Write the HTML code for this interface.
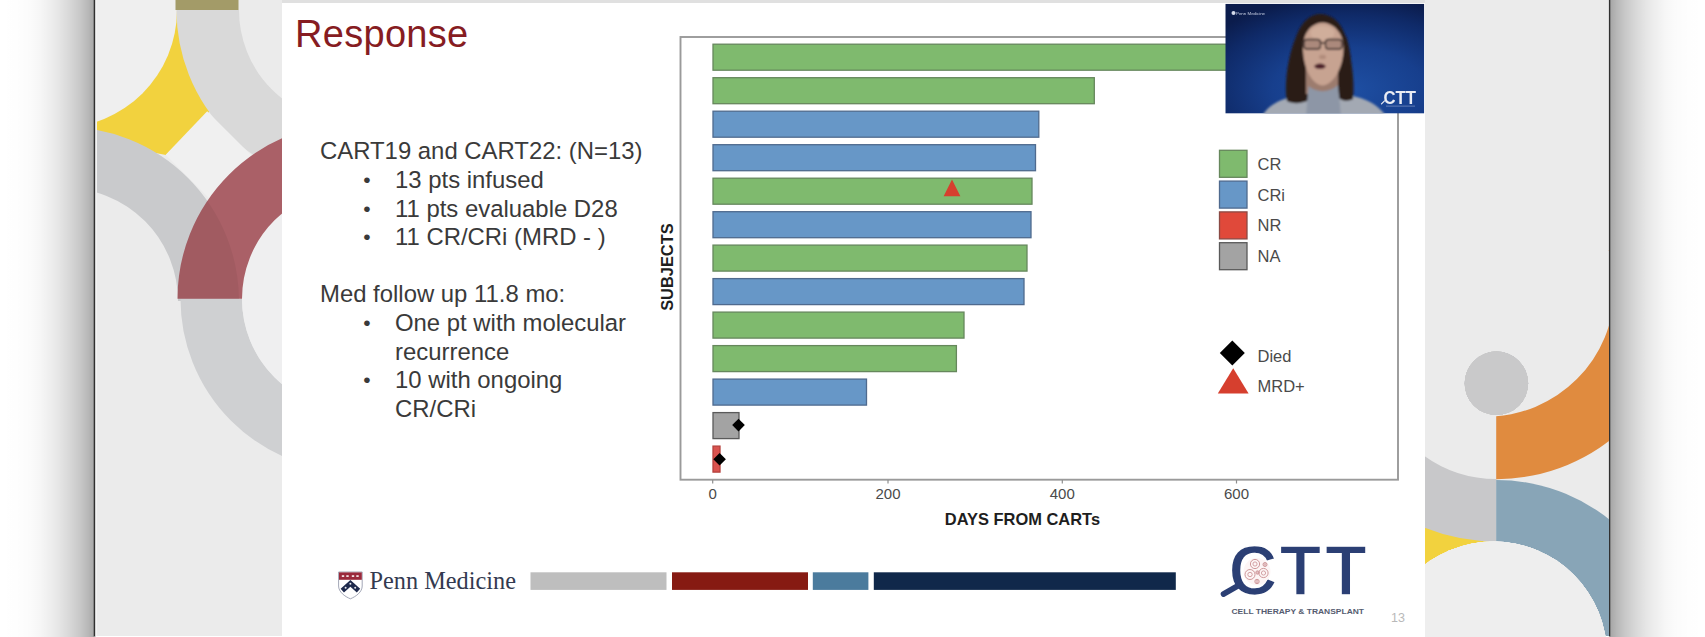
<!DOCTYPE html>
<html>
<head>
<meta charset="utf-8">
<title>Response</title>
<style>
html,body{margin:0;padding:0;background:#fff;}
body{width:1705px;height:637px;overflow:hidden;position:relative;font-family:"Liberation Sans",sans-serif;}
#stage{position:absolute;left:0;top:0;width:1705px;height:637px;overflow:hidden;background:#fff;}
.shadowL{position:absolute;left:0;top:0;width:94px;height:637px;background:linear-gradient(to right,rgba(0,0,0,0) 0px,rgba(0,0,0,0.003) 15px,rgba(0,0,0,0.015) 30px,rgba(0,0,0,0.035) 40px,rgba(0,0,0,0.065) 50px,rgba(0,0,0,0.105) 60px,rgba(0,0,0,0.155) 70px,rgba(0,0,0,0.215) 80px,rgba(0,0,0,0.28) 88px,rgba(0,0,0,0.34) 94px);}
.shadowR{position:absolute;left:1610px;top:0;width:95px;height:637px;background:linear-gradient(to left,rgba(0,0,0,0) 0px,rgba(0,0,0,0.003) 15px,rgba(0,0,0,0.015) 30px,rgba(0,0,0,0.035) 40px,rgba(0,0,0,0.065) 50px,rgba(0,0,0,0.105) 60px,rgba(0,0,0,0.155) 70px,rgba(0,0,0,0.215) 80px,rgba(0,0,0,0.28) 88px,rgba(0,0,0,0.34) 94px);}
#win{position:absolute;left:95px;top:0;width:1514px;height:636px;background:#ebebeb;overflow:hidden;}
#deco{position:absolute;left:0;top:0;width:1705px;height:637px;}
#slide{position:absolute;left:282px;top:3px;width:1143px;height:634px;background:#fff;}
.title{position:absolute;left:295px;top:12px;font-size:38px;line-height:44px;color:#861c22;white-space:nowrap;letter-spacing:0.3px;}
.body{position:absolute;left:320px;top:137.4px;font-size:23.9px;line-height:28.6px;color:#3a3a3a;white-space:nowrap;}
.body .b{position:relative;padding-left:75px;}
.body .b .bl{position:absolute;left:43.3px;top:0.3px;font-size:21px;}
.body .c{padding-left:75px;}
</style>
</head>
<body>
<div id="stage">
  <div class="shadowL"></div>
  <div class="shadowR"></div>
  <div id="win"></div>
  <svg id="deco" width="1705" height="637" viewBox="0 0 1705 637">
    <defs>
      <clipPath id="clipL"><rect x="96" y="0" width="187" height="636"/></clipPath>
      <clipPath id="clipRed"><path d="M 177.5 298.8 A 175.5 175.5 0 0 1 353 123.3 L 353 187.8 A 111 111 0 0 0 242 298.8 Z"/></clipPath>
      <clipPath id="clipRR"><rect x="1496.2" y="250" width="120" height="400"/></clipPath>
      <clipPath id="clipR"><rect x="1424" y="0" width="185" height="636"/></clipPath>
    </defs>
    <g clip-path="url(#clipL)" id="decoL">
      <polygon points="96,10 180,10 211,110 166,155 140,150 96,140" fill="#f2d23e"/>
      <circle cx="59" cy="10" r="118" fill="#efefef"/>
      <path d="M 207.75 10 A 143.75 143.75 0 0 0 351.5 153.75" stroke="#d9d9d9" stroke-width="62.5" fill="none"/>
      <path d="M 65 157.5 A 143.5 143.5 0 0 1 208.5 301" stroke="#c9cacc" stroke-width="61" fill="none"/>
      <polygon points="207.2,111.3 165.7,154.7 255.7,244.7 297.2,201.3" fill="#f0f0f0"/>
      <path d="M 211.25 298.8 A 141.75 141.75 0 0 0 353 440.55" stroke="#cfd0d2" stroke-width="61.5" fill="none"/>
      <circle cx="353" cy="298.8" r="111" fill="#efeff0"/>
      <path d="M 209.75 298.8 A 143.25 143.25 0 0 1 353 155.55" stroke="#aa6067" stroke-width="64.5" fill="none"/>
      <circle cx="65" cy="301" r="143.5" stroke="#000" stroke-opacity="0.05" stroke-width="61" fill="none" clip-path="url(#clipRed)"/>
      <rect x="175.5" y="0" width="63" height="10" fill="#a39b68"/>
    </g>
    <g id="edges"><rect x="93.7" y="0" width="1.7" height="636.5" fill="#303030"/><rect x="95.4" y="0" width="1.6" height="636" fill="#f3f3f3"/><rect x="1608.9" y="0" width="1.4" height="636.5" fill="#303030"/><rect x="282" y="0" width="1143" height="3" fill="#e0e0e0"/></g>
    <g clip-path="url(#clipR)" id="decoR">
      <polygon points="1424,505 1497,541.5 1424,600" fill="#f2d23e"/>
      <path d="M 1424 455.7 A 124 124 0 0 0 1496.4 479 L 1496.4 541.5 A 195.5 195.5 0 0 1 1424 527.6 Z" fill="#c8c8ca"/>
      <g clip-path="url(#clipRR)">
        <circle cx="1496.4" cy="661.3" r="181.3" fill="#88a5b7"/>
        <path fill-rule="evenodd" fill="#e08b3f" d="M 1310.6 293.2 a 185.8 185.8 0 1 0 371.6 0 a 185.8 185.8 0 1 0 -371.6 0 Z M 1357.7 288.3 a 128.4 128.4 0 1 0 256.8 0 a 128.4 128.4 0 1 0 -256.8 0 Z"/>
      </g>
      <circle cx="1493.5" cy="654.9" r="113.4" fill="#eeeeee"/>
      <circle cx="1496.4" cy="383.3" r="31.7" fill="#c8c8ca"/>
    </g>
      <circle cx="1493.5" cy="654.9" r="113.4" fill="#eeeeee"/>
      <circle cx="1496.4" cy="383.3" r="31.7" fill="#c8c8ca"/>
    </g>
      <circle cx="1493.5" cy="654.9" r="113.4" fill="#eeeeee"/>
      <circle cx="1496.4" cy="383.3" r="31.7" fill="#c8c8ca"/>
    </g>
      <circle cx="1493.5" cy="654.9" r="113.4" fill="#eeeeee"/>
      <circle cx="1496.4" cy="383.3" r="31.7" fill="#c9c9ca"/>
    </g>
      <circle cx="1493.5" cy="654.9" r="113.4" fill="#eeeeee"/>
      <circle cx="1496.4" cy="383.3" r="31.7" fill="#c9c9ca"/>
    </g>
      <circle cx="1493.5" cy="654.9" r="113.4" fill="#eeeeee"/>
      <circle cx="1496.4" cy="383.3" r="31.7" fill="#c9c9ca"/>
    </g>
      <circle cx="1493.5" cy="654.9" r="113.4" fill="#eeeeee"/>
      <circle cx="1496.4" cy="383.3" r="31.7" fill="#c9c9ca"/>
    </g>
  </svg>
  <div id="slide"></div>
  <svg id="chart" width="1705" height="637" viewBox="0 0 1705 637" style="position:absolute;left:0;top:0" font-family="'Liberation Sans',sans-serif">
  <rect x="680.5" y="37" width="717.5" height="442.7" fill="#fff" stroke="#9a9a9a" stroke-width="1.9"/>
  <rect x="713.0" y="44.2" width="547.0" height="26" fill="#7fba6e" stroke="#66875c" stroke-width="1.3"/>
  <rect x="713.0" y="77.7" width="381.3" height="26" fill="#7fba6e" stroke="#66875c" stroke-width="1.3"/>
  <rect x="713.0" y="111.2" width="325.8" height="26" fill="#6797c7" stroke="#4f6a8e" stroke-width="1.3"/>
  <rect x="713.0" y="144.7" width="322.5" height="26" fill="#6797c7" stroke="#4f6a8e" stroke-width="1.3"/>
  <rect x="713.0" y="178.2" width="319.0" height="26" fill="#7fba6e" stroke="#66875c" stroke-width="1.3"/>
  <rect x="713.0" y="211.7" width="318.0" height="26" fill="#6797c7" stroke="#4f6a8e" stroke-width="1.3"/>
  <rect x="713.0" y="245.1" width="314.0" height="26" fill="#7fba6e" stroke="#66875c" stroke-width="1.3"/>
  <rect x="713.0" y="278.6" width="311.0" height="26" fill="#6797c7" stroke="#4f6a8e" stroke-width="1.3"/>
  <rect x="713.0" y="312.1" width="251.0" height="26" fill="#7fba6e" stroke="#66875c" stroke-width="1.3"/>
  <rect x="713.0" y="345.6" width="243.4" height="26" fill="#7fba6e" stroke="#66875c" stroke-width="1.3"/>
  <rect x="713.0" y="379.1" width="153.5" height="26" fill="#6797c7" stroke="#4f6a8e" stroke-width="1.3"/>
  <rect x="713.0" y="412.6" width="26.0" height="26" fill="#a3a3a3" stroke="#5a5a5a" stroke-width="1.3"/>
  <rect x="713.0" y="446.1" width="7.0" height="26" fill="#d9534f" stroke="#b5413d" stroke-width="1.3"/>
  <polygon points="952,179.6 943.6,196.2 960.4,196.2" fill="#d63f2e"/>
  <polygon points="738.5,418.8 744.8,425.1 738.5,431.40000000000003 732.2,425.1" fill="#000"/>
  <polygon points="719.6,452.9 725.9,459.2 719.6,465.5 713.3000000000001,459.2" fill="#000"/>
  <line x1="712.7" y1="480" x2="712.7" y2="483.5" stroke="#8e8e8e" stroke-width="1.2"/>
  <text x="712.7" y="499.2" font-size="15" fill="#4a4a4a" text-anchor="middle">0</text>
  <line x1="888" y1="480" x2="888" y2="483.5" stroke="#8e8e8e" stroke-width="1.2"/>
  <text x="888" y="499.2" font-size="15" fill="#4a4a4a" text-anchor="middle">200</text>
  <line x1="1062.3" y1="480" x2="1062.3" y2="483.5" stroke="#8e8e8e" stroke-width="1.2"/>
  <text x="1062.3" y="499.2" font-size="15" fill="#4a4a4a" text-anchor="middle">400</text>
  <line x1="1236.5" y1="480" x2="1236.5" y2="483.5" stroke="#8e8e8e" stroke-width="1.2"/>
  <text x="1236.5" y="499.2" font-size="15" fill="#4a4a4a" text-anchor="middle">600</text>
  <text x="944.8" y="524.9" font-size="16.4" font-weight="bold" fill="#1e1e1e" textLength="155.3" lengthAdjust="spacingAndGlyphs">DAYS FROM CARTs</text>
  <text transform="translate(672.6,267.1) rotate(-90)" font-size="16.4" font-weight="bold" fill="#1e1e1e" text-anchor="middle">SUBJECTS</text>
  <rect x="1219.5" y="150.3" width="27.5" height="27" fill="#7fba6e" stroke="#66875c" stroke-width="1.3"/>
  <text x="1257.5" y="169.8" font-size="16.5" fill="#4a4a4a">CR</text>
  <rect x="1219.5" y="181.1" width="27.5" height="27" fill="#6797c7" stroke="#4f6a8e" stroke-width="1.3"/>
  <text x="1257.5" y="200.6" font-size="16.5" fill="#4a4a4a">CRi</text>
  <rect x="1219.5" y="211.9" width="27.5" height="27" fill="#e0493a" stroke="#8a4a44" stroke-width="1.3"/>
  <text x="1257.5" y="231.4" font-size="16.5" fill="#4a4a4a">NR</text>
  <rect x="1219.5" y="242.7" width="27.5" height="27" fill="#a3a3a3" stroke="#5a5a5a" stroke-width="1.3"/>
  <text x="1257.5" y="262.2" font-size="16.5" fill="#4a4a4a">NA</text>
  <polygon points="1232.3,340.5 1244.8,353 1232.3,365.5 1219.8,353" fill="#000"/>
  <text x="1257.5" y="361.5" font-size="16.5" fill="#4a4a4a">Died</text>
  <polygon points="1233.2,368.3 1217.8,393.6 1248.6,393.6" fill="#d63f2e"/>
  <text x="1257.5" y="392" font-size="16.5" fill="#4a4a4a">MRD+</text>
  </svg>
  <svg id="misc" width="1705" height="637" viewBox="0 0 1705 637" style="position:absolute;left:0;top:0" font-family="'Liberation Sans',sans-serif">
  <defs>
  <radialGradient id="vbg" cx="0.62" cy="0.78" r="0.85" fx="0.62" fy="0.78">
    <stop offset="0" stop-color="#1e4fa3"/><stop offset="0.45" stop-color="#173f8d"/><stop offset="0.8" stop-color="#0f2a68"/><stop offset="1" stop-color="#0b1c4c"/>
  </radialGradient>
  <filter id="b1" x="-20%" y="-20%" width="140%" height="140%"><feGaussianBlur stdDeviation="0.9"/></filter>
  <filter id="b2" x="-20%" y="-20%" width="140%" height="140%"><feGaussianBlur stdDeviation="0.5"/></filter>
  <clipPath id="vclip"><rect x="1225.3" y="3.8" width="199" height="109.8"/></clipPath>
</defs>
  <g clip-path="url(#vclip)">
  <rect x="1225.3" y="3.8" width="199" height="109.8" fill="url(#vbg)"/>
  <g filter="url(#b1)">
  <path d="M 1262 116 C 1268 106 1278 100 1292 97 L 1350 95.5 C 1366 98 1378 105 1386 116 Z" fill="#a3a9b3"/>
  <path d="M 1287 101 C 1284 85 1288 55 1296 37 C 1302 20 1312 14 1320 14 C 1330 14 1340 20 1345.5 36 C 1351 55 1355 80 1353 99 C 1348 102 1340 101 1337 96 L 1337 60 L 1306 60 L 1308.5 100 C 1302 104 1292 104 1287 101 Z" fill="#2a1b18"/>
  <rect x="1306" y="58" width="32" height="36" fill="#9c7c6e"/>
  <path d="M 1306 116 L 1308.5 86 C 1316 93 1330 93 1338 85 L 1341 116 Z" fill="#8d96a6"/>
  <path d="M 1322.6 22.5 C 1310 23.5 1303 34 1303 48 C 1303 68 1312 85 1322.6 85.5 C 1333 85 1343.5 68 1343.5 48 C 1343.5 34 1335 23.5 1322.6 22.5 Z" fill="#c7a391"/>
  <ellipse cx="1322.5" cy="33" rx="12" ry="7" fill="#d2b09e" opacity="0.8"/>
  <path d="M 1303 40 C 1300 55 1300 75 1305 90 L 1296 92 C 1292 70 1294 50 1300 36 Z" fill="#2a1b18"/>
  <path d="M 1343 40 C 1346 55 1346 72 1342 88 L 1350 90 C 1353 70 1351 50 1346 36 Z" fill="#2a1b18"/>
  <rect x="1304" y="39.5" width="16.5" height="9.5" rx="3" fill="#6b5048" fill-opacity="0.3" stroke="#2e2222" stroke-width="1.3"/>
  <rect x="1325.5" y="39.5" width="16.5" height="9.5" rx="3" fill="#6b5048" fill-opacity="0.3" stroke="#2e2222" stroke-width="1.3"/>
  <line x1="1320.5" y1="43" x2="1325.5" y2="43" stroke="#2e2222" stroke-width="1.4"/>
  <ellipse cx="1322.5" cy="57" rx="3.5" ry="2.2" fill="#a88272" opacity="0.7"/>
  <ellipse cx="1320" cy="66.3" rx="5.6" ry="2.7" fill="#4e2029"/>
  </g>
  <text x="1383.5" y="103.5" font-size="17.5" font-weight="bold" fill="#e9ecf4" textLength="32.5" lengthAdjust="spacingAndGlyphs" filter="url(#b2)">CTT</text>
  <line x1="1381.5" y1="103.8" x2="1384.5" y2="100.8" stroke="#e9ecf4" stroke-width="1.2" stroke-linecap="round" filter="url(#b2)"/>
  <rect x="1386" y="105.6" width="29" height="1" fill="#8fa3d0" opacity="0.6"/>
  <text x="1236" y="14.8" font-size="4.4" fill="#c5cde2" filter="url(#b2)">Penn Medicine</text>
  <circle cx="1233.5" cy="13" r="2" fill="#d5dbea" filter="url(#b2)"/>
  </g>
  <rect x="530.5" y="572.3" width="136" height="17.6" fill="#bebebe"/>
  <rect x="672" y="572.3" width="136" height="17.6" fill="#861a12"/>
  <rect x="812.8" y="572.3" width="55.6" height="17.6" fill="#4b7b9d"/>
  <rect x="873.8" y="572.3" width="302" height="17.6" fill="#10284a"/>
  <g id="penn">
  <path d="M 338.6 572 H 362.2 V 586 C 362.2 592 356 596.5 350.4 598.8 C 344.8 596.5 338.6 592 338.6 586 Z" fill="#fff" stroke="#8a8fa3" stroke-width="0.8"/>
  <rect x="339" y="572.4" width="22.8" height="7.4" fill="#9a2a3c"/>
  <rect x="341.8" y="575.2" width="2.4" height="1.8" fill="#f0dfe2"/>
  <rect x="346.3" y="575.2" width="2.4" height="1.8" fill="#f0dfe2"/>
  <rect x="351.8" y="575.2" width="2.4" height="1.8" fill="#f0dfe2"/>
  <rect x="356.3" y="575.2" width="2.4" height="1.8" fill="#f0dfe2"/>
  <path d="M 342.3 590.6 L 350.4 583.3 L 358.5 590.6" stroke="#1f2a4d" stroke-width="5" fill="none"/>
  <circle cx="345.6" cy="587.7" r="1" fill="#e8eaf0"/>
  <circle cx="350.4" cy="583.8" r="1" fill="#e8eaf0"/>
  <circle cx="355.2" cy="587.7" r="1" fill="#e8eaf0"/>
  <text x="369.5" y="589.3" font-family="'Liberation Serif',serif" font-size="26" fill="#333a50" textLength="146.5" lengthAdjust="spacingAndGlyphs">Penn Medicine</text>
  </g>
  <g id="ctt">
  <text y="595.4" font-size="71" font-weight="bold" fill="#2b3f74" stroke="#fff" stroke-width="1.7"><tspan x="1228.6" textLength="49" lengthAdjust="spacingAndGlyphs">C</tspan><tspan x="1279.6" textLength="41.8" lengthAdjust="spacingAndGlyphs">T</tspan><tspan x="1324.9" textLength="41.8" lengthAdjust="spacingAndGlyphs">T</tspan></text>
  <circle cx="1257" cy="571.5" r="13.5" fill="#fdf5f5"/>
  <circle cx="1255" cy="564" r="4.6" fill="none" stroke="#c98d90" stroke-width="0.9"/>
  <circle cx="1255" cy="564" r="2.1" fill="none" stroke="#c98d90" stroke-width="0.8"/>
  <circle cx="1250" cy="574.5" r="5" fill="none" stroke="#c98d90" stroke-width="0.9"/>
  <circle cx="1250" cy="574.5" r="2.2" fill="none" stroke="#c98d90" stroke-width="0.8"/>
  <circle cx="1263.5" cy="573" r="4.6" fill="none" stroke="#c98d90" stroke-width="0.9"/>
  <circle cx="1263.5" cy="573" r="2.1" fill="none" stroke="#c98d90" stroke-width="0.8"/>
  <circle cx="1257" cy="581.5" r="2.2" fill="none" stroke="#c98d90" stroke-width="0.9"/>
  <circle cx="1257" cy="581.5" r="1.0" fill="none" stroke="#c98d90" stroke-width="0.8"/>
  <circle cx="1265" cy="564.5" r="2" fill="none" stroke="#c98d90" stroke-width="0.9"/>
  <circle cx="1265" cy="564.5" r="0.9" fill="none" stroke="#c98d90" stroke-width="0.8"/>
  <circle cx="1257.5" cy="572.5" r="1.7" fill="none" stroke="#c98d90" stroke-width="0.9"/>
  <circle cx="1257.5" cy="572.5" r="0.8" fill="none" stroke="#c98d90" stroke-width="0.8"/>
  <line x1="1238" y1="585.8" x2="1223.6" y2="594" stroke="#2b3f74" stroke-width="5.8" stroke-linecap="round"/>
  <text x="1231.5" y="614.2" font-size="7" font-weight="bold" fill="#555c70" textLength="132.5" lengthAdjust="spacingAndGlyphs">CELL THERAPY &amp; TRANSPLANT</text>
  </g>
  <text x="1391" y="621.5" font-size="12.5" fill="#b9b9b9">13</text>
  </svg>
  <div class="title">Response</div>
  <div class="body">
    <div>CART19 and CART22: (N=13)</div>
    <div class="b"><span class="bl">&bull;</span>13 pts infused</div>
    <div class="b"><span class="bl">&bull;</span>11 pts evaluable D28</div>
    <div class="b"><span class="bl">&bull;</span>11 CR/CRi (MRD - )</div>
    <div>&nbsp;</div>
    <div>Med follow up 11.8 mo:</div>
    <div class="b"><span class="bl">&bull;</span>One pt with molecular</div>
    <div class="c">recurrence</div>
    <div class="b"><span class="bl">&bull;</span>10 with ongoing</div>
    <div class="c">CR/CRi</div>
  </div>
</div>
</body>
</html>
